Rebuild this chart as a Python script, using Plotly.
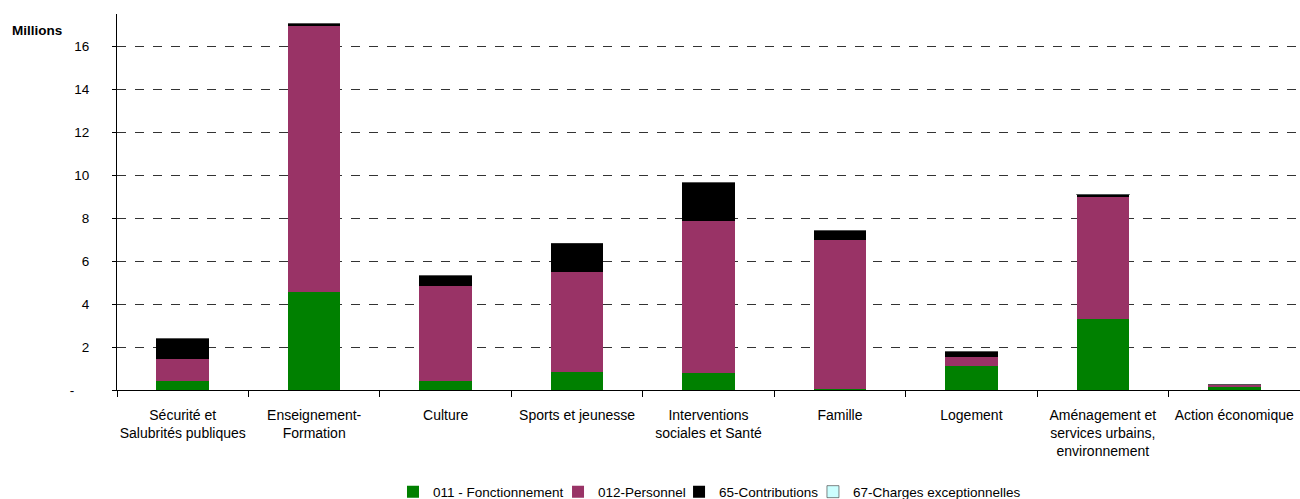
import plotly.graph_objects as go

categories = [
    "Sécurité et<br>Salubrités publiques",
    "Enseignement-<br>Formation",
    "Culture",
    "Sports et jeunesse",
    "Interventions<br>sociales et Santé",
    "Famille",
    "Logement",
    "Aménagement et<br>services urbains,<br>environnement",
    "Action économique",
]

fonctionnement = [0.42, 4.58, 0.42, 0.85, 0.79, 0.05, 1.12, 3.31, 0.14]
personnel      = [1.03, 12.34, 4.43, 4.65, 7.09, 6.95, 0.42, 5.71, 0.10]
contributions  = [0.93, 0.12, 0.47, 1.34, 1.77, 0.42, 0.23, 0.06, 0.00]
exceptionnelles = [0.00, 0.00, 0.00, 0.00, 0.00, 0.00, 0.00, 0.03, 0.00]

series_names = ["011 - Fonctionnement", "012-Personnel", "65-Contributions",
                "67-Charges exceptionnelles"]
series_values = [fonctionnement, personnel, contributions, exceptionnelles]
series_colors = ["#008000", "#993366", "#000000", "#CCFFFF"]
series_lines = ["#008000", "#993366", "#000000", "#333333"]

ytick_vals = [0, 2, 4, 6, 8, 10, 12, 14, 16]
ytick_text = ["-\u00a0\u00a0\u00a0\u00a0", "2", "4", "6", "8", "10", "12", "14", "16"]

legend_ids = ["legend2", "legend3", "legend4", "legend5"]
legend_x = [0.2333, 0.3728, 0.4751, 0.5883]

font = "Liberation Sans, Arial, sans-serif"

fig = go.Figure()
for i, (name, vals, color, line) in enumerate(zip(series_names, series_values,
                                                   series_colors, series_lines)):
    fig.add_trace(go.Bar(
        x=categories, y=vals, name=name, legend=legend_ids[i],
        marker=dict(color=color, line=dict(color=line, width=0.6 if line != color else 0)),
    ))

layout_legends = {}
for lid, lx in zip(legend_ids, legend_x):
    layout_legends[lid] = dict(
        orientation="h", x=lx, xanchor="left", y=-0.271, yanchor="middle",
        font=dict(size=13.5, family=font, color="black"), itemwidth=30,
        bgcolor="rgba(0,0,0,0)", borderwidth=0,
    )

fig.update_layout(
    barmode="stack",
    bargap=0.6,
    width=1300, height=499,
    margin=dict(l=117, r=0, t=14, b=109, autoexpand=False),
    plot_bgcolor="white",
    paper_bgcolor="white",
    font=dict(family=font, size=13, color="black"),
    annotations=[dict(
        text="<b>Millions</b>", xref="paper", yref="paper", x=-0.0905, y=0.957,
        xanchor="left", yanchor="middle", showarrow=False,
        font=dict(size=13.5, family=font, color="black"),
    )],
    **layout_legends,
)
fig.update_yaxes(
    range=[0, 17.5],
    tickvals=ytick_vals, ticktext=ytick_text,
    showline=True, linecolor="black", linewidth=1,
    ticks="outside", ticklen=4, tickcolor="black",
    showgrid=True, gridcolor="#333333", griddash="dash", gridwidth=1,
    zeroline=False,
    ticklabelstandoff=20,
    tickfont=dict(size=13.5),
    automargin=False,
)
fig.update_xaxes(
    showline=True, linecolor="black", linewidth=1,
    ticks="outside", ticklen=6, tickcolor="black",
    tickson="boundaries",
    tickfont=dict(size=14),
    tickangle=0,
    ticklabelstandoff=12,
    automargin=False,
)

fig.write_html("out.html")
